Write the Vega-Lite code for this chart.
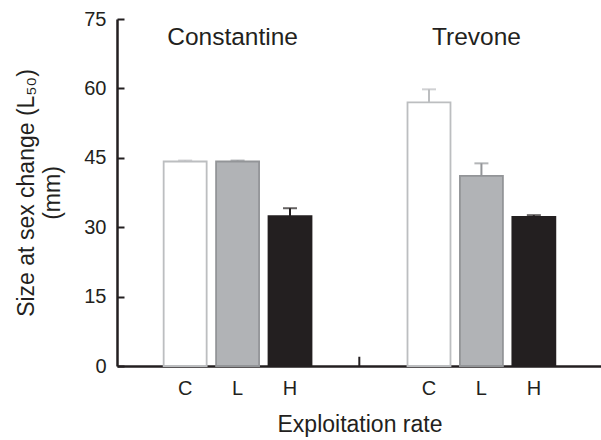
{
  "$schema": "https://vega.github.io/schema/vega-lite/v6.json",
  "autosize": {"type": "none"},
  "padding": {"left": 117, "top": 19, "right": 0, "bottom": 74},
  "width": 485,
  "height": 347,
  "background": "white",
  "config": {
    "font": "Liberation Sans",
    "view": {"stroke": null},
    "axis": {"labelColor": "#231f20", "titleColor": "#231f20", "domainColor": "#231f20", "tickColor": "#231f20", "grid": false, "titleFontWeight": "normal"}
  },
  "data": {
    "values": [
      {"site": "Constantine", "rate": "C", "value": 44.2, "upper": 44.4},
      {"site": "Constantine", "rate": "L", "value": 44.2, "upper": 44.4},
      {"site": "Constantine", "rate": "H", "value": 32.4, "upper": 34.1},
      {"site": "Trevone", "rate": "C", "value": 57.0, "upper": 59.8},
      {"site": "Trevone", "rate": "L", "value": 41.1, "upper": 43.8},
      {"site": "Trevone", "rate": "H", "value": 32.2, "upper": 32.6}
    ]
  },
  "encoding": {
    "x": {
      "field": "site", "type": "nominal",
      "scale": {"domain": ["Constantine", "Trevone"], "paddingInner": 0.355, "paddingOuter": 0.172},
      "axis": {"title": "Exploitation rate", "labels": false, "ticks": false, "domainWidth": 2.5, "titleFontSize": 23, "titlePadding": 47}
    },
    "xOffset": {
      "field": "rate", "type": "nominal",
      "scale": {"domain": ["C", "L", "H"], "paddingInner": 0.18, "paddingOuter": 0.09}
    }
  },
  "layer": [
    {
      "mark": {"type": "bar", "strokeWidth": 1.8},
      "encoding": {
        "y": {
          "field": "value", "type": "quantitative",
          "scale": {"domain": [0, 75], "nice": false},
          "axis": {
            "values": [0, 15, 30, 45, 60, 75],
            "title": ["Size at sex change (L₅₀)", "(mm)"],
            "titleFontSize": 23, "titleLineHeight": 26, "titlePadding": 19,
            "labelFontSize": 20, "labelPadding": 18,
            "tickSize": -7, "tickWidth": 2, "domainWidth": 2.5
          }
        },
        "fill": {"field": "rate", "type": "nominal", "scale": {"domain": ["C", "L", "H"], "range": ["#ffffff", "#b1b3b6", "#231f20"]}, "legend": null},
        "stroke": {"field": "rate", "type": "nominal", "scale": {"domain": ["C", "L", "H"], "range": ["#bcbec0", "#939598", "#231f20"]}, "legend": null}
      }
    },
    {
      "mark": {"type": "rule", "strokeWidth": 2},
      "encoding": {
        "y": {"field": "value", "type": "quantitative"},
        "y2": {"field": "upper"},
        "stroke": {"field": "rate", "type": "nominal", "legend": null}
      }
    },
    {
      "mark": {"type": "tick", "orient": "horizontal", "size": 14, "thickness": 2},
      "encoding": {
        "y": {"field": "upper", "type": "quantitative"},
        "color": {"field": "rate", "type": "nominal", "scale": {"domain": ["C", "L", "H"], "range": ["#bcbec0", "#939598", "#231f20"]}, "legend": null}
      }
    },
    {
      "mark": {"type": "text", "fontSize": 20, "dy": 29, "baseline": "alphabetic", "color": "#231f20"},
      "encoding": {
        "y": {"datum": 0, "type": "quantitative"},
        "text": {"field": "rate"}
      }
    },
    {
      "data": {"values": [{"site": "Constantine"}, {"site": "Trevone"}]},
      "mark": {"type": "text", "fontSize": 24.5, "dx": -5, "baseline": "alphabetic", "color": "#231f20"},
      "encoding": {
        "xOffset": null,
        "y": {"datum": 69.4, "type": "quantitative"},
        "text": {"field": "site"}
      }
    },
    {
      "data": {"values": [{"site": "Constantine"}]},
      "mark": {"type": "rule", "strokeWidth": 2, "color": "#231f20"},
      "encoding": {
        "x": {"field": "site", "type": "nominal", "bandPosition": 1.274},
        "xOffset": null,
        "y": {"datum": 0, "type": "quantitative"},
        "y2": {"datum": 2}
      }
    }
  ]
}
